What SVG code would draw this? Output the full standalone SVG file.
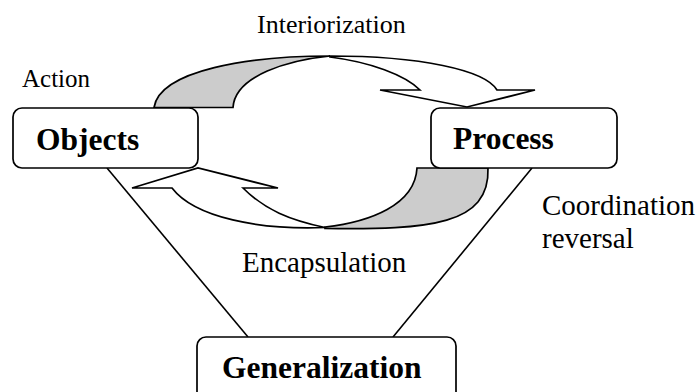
<svg xmlns="http://www.w3.org/2000/svg" width="699" height="392" viewBox="0 0 699 392">
  <style>
    .box { fill: #ffffff; stroke: #000000; stroke-width: 1.7; }
    .band { stroke: #000000; stroke-width: 1.7; stroke-linejoin: miter; }
    .back { fill: #cccccc; }
    .front { fill: #ffffff; }
    .link { stroke: #000000; stroke-width: 1.6; fill: none; }
    .title { font-family: "Liberation Serif", "Times New Roman", serif; font-weight: bold; font-size: 31.5px; fill: #000000; }
    .label { font-family: "Liberation Serif", "Times New Roman", serif; font-size: 26px; fill: #000000; }
  </style>

  <!-- straight connectors down to Generalization -->
  <g id="connectors">
    <line class="link" x1="107" y1="168" x2="248" y2="337"/>
    <line class="link" x1="532" y1="168" x2="393" y2="337"/>
  </g>

  <!-- Interiorization: curved arrow from Objects over to Process -->
  <g id="arrow-interiorization">
    <path class="band back" d="M154,107.5 C160,70 250,56 330,56 C290,60 235,75 233,107.5 Z"/>
    <path class="band front" d="M330,56 C420,56 485,70 497,90 L535,90 L467,107 L380,90 L420,90 C405,75 370,62 330,57 Z"/>
  </g>

  <!-- Encapsulation: curved arrow from Process back under to Objects -->
  <g id="arrow-encapsulation">
    <path class="band back" d="M325,228.5 C430,230 490,225 488,168 L417,168 C415,205 370,222 325,227 Z"/>
    <path class="band front" d="M132,188 L198,168 L278,188 L243,188 C265,210 290,220 325,227.5 C260,230 195,218 172,188 Z"/>
  </g>

  <g id="node-objects">
    <rect class="box" x="13" y="108" width="185" height="60" rx="9" ry="9"/>
    <text class="title" x="36" y="150">Objects</text>
  </g>

  <g id="node-process">
    <rect class="box" x="431" y="108" width="186" height="60" rx="9" ry="9"/>
    <text class="title" x="453" y="149">Process</text>
  </g>

  <g id="node-generalization">
    <rect class="box" x="197" y="337" width="259" height="70" rx="9" ry="9"/>
    <text class="title" x="222" y="378">Generalization</text>
  </g>

  <g id="labels">
    <text class="label" x="257" y="33">Interiorization</text>
    <text class="label" x="22" y="87" style="font-size:25px">Action</text>
    <text class="label" x="242" y="272" style="font-size:29px">Encapsulation</text>
    <text class="label" x="542" y="215" style="font-size:29px">Coordination</text>
    <text class="label" x="542" y="248" style="font-size:29px">reversal</text>
  </g>
</svg>
